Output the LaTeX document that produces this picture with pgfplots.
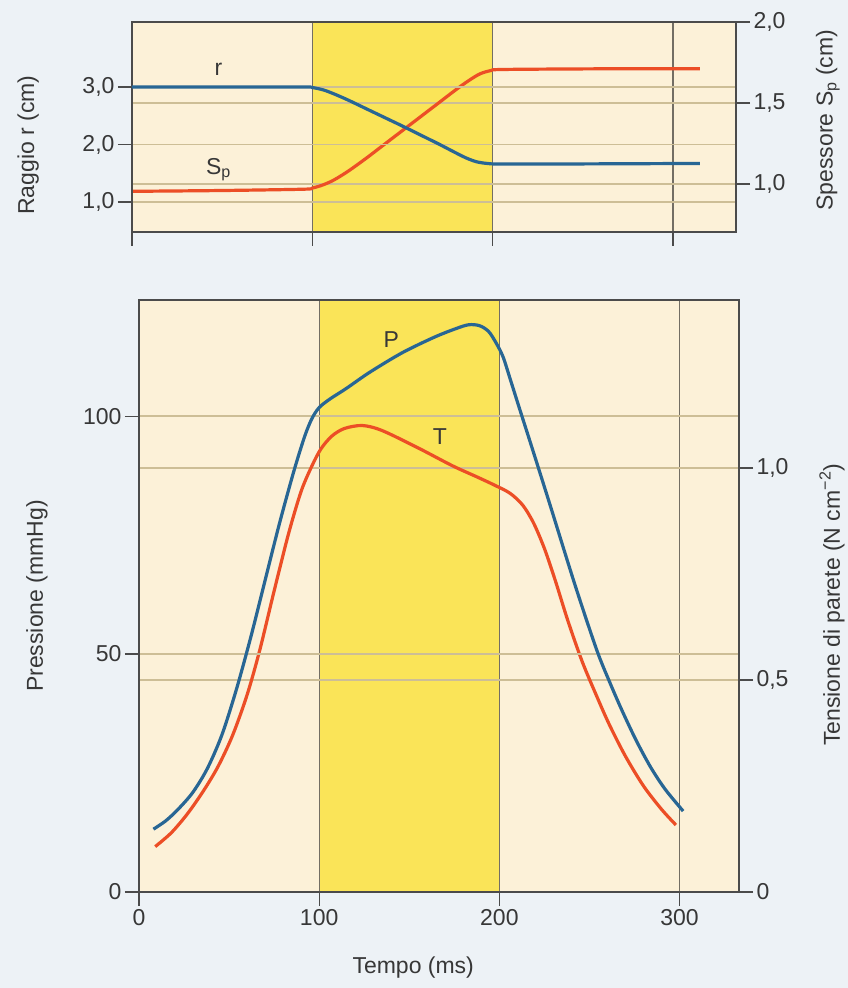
\documentclass[border=0pt]{standalone}
\usepackage{pgfplots}
\pgfplotsset{compat=1.18}
\usepackage{fontspec}
\setmainfont{Liberation Sans}
\definecolor{pagebg}{RGB}{237,242,246}
\definecolor{beige}{RGB}{252,241,216}
\definecolor{band}{RGB}{250,228,88}
\definecolor{cblue}{RGB}{40,102,148}
\definecolor{cred}{RGB}{236,78,38}
\definecolor{hgrid}{RGB}{205,190,150}
\definecolor{vgrid}{RGB}{115,110,100}
\definecolor{axcol}{RGB}{75,75,75}
\definecolor{txt}{RGB}{55,55,55}

\pgfplotsset{
  base/.style={
    scale only axis,
    axis line style={axcol, line width=1.4pt},
    tick style={axcol, line width=1.2pt},
    major tick length=14pt,
    tick align=outside,
    tick label style={font=\fontsize{23}{27}\selectfont, text=txt},
    label style={font=\fontsize{23}{27}\selectfont, text=txt},
    /pgf/number format/assume math mode=true,
    y grid style={hgrid, line width=1.5pt},
    x grid style={vgrid, line width=1.2pt},
  },
  bgaxis/.style={
    scale only axis, hide axis, xmin=0, ymin=0, ymax=1,
  },
}

\begin{document}
\begin{tikzpicture}[x=1pt,y=1pt]
\fill[pagebg] (0,0) rectangle (848,988);

% ===== TOP PANEL =====
\begin{axis}[bgaxis, at={(132pt,756pt)}, anchor=south west,
  width=604pt, height=210pt, xmax=335]
  \addplot[draw=none, fill=beige] coordinates {(0,1) (335,1)} \closedcycle;
  \addplot[draw=none, fill=band] coordinates {(100,1) (200,1)} \closedcycle;
\end{axis}
% right scale: spessore
\begin{axis}[base, at={(132pt,756pt)}, anchor=south west,
  width=604pt, height=210pt,
  xmin=0, xmax=335, ymin=0.704, ymax=2.0,
  xtick={0,100,200,300}, xticklabels={}, xtick pos=bottom,
  xmajorgrids,
  ytick={1,1.5,2}, yticklabels={{1,0},{1,5},{2,0}}, ytick pos=right,
  ymajorgrids,
  ylabel={Spessore S\textsubscript{p} (cm)},
  ylabel style={at={(axis description cs:1.152,0.533)}, anchor=center},
]
  \addplot[cred, line width=3.2pt, smooth] coordinates {
    (0,0.955) (50,0.96) (95,0.968) (100,0.975) (106,0.995) (112,1.025)
    (120,1.08) (130,1.16) (140,1.245) (150,1.33) (160,1.415) (170,1.50)
    (180,1.585) (187,1.64) (193,1.68) (199,1.70) (206,1.707) (260,1.711)
    (315,1.712)
  };
\end{axis}
% left scale: raggio
\begin{axis}[base, at={(132pt,756pt)}, anchor=south west,
  width=604pt, height=210pt,
  xmin=0, xmax=335, ymin=0.478, ymax=4.13,
  xtick=\empty,
  ytick={1,2,3}, yticklabels={{1,0},{2,0},{3,0}}, ytick pos=left,
  ymajorgrids,
  ylabel={Raggio r (cm)},
  ylabel style={at={(axis description cs:-0.172,0.414)}, anchor=center},
]
  \addplot[cblue, line width=3.2pt, smooth] coordinates {
    (0,3.0) (50,3.0) (95,3.0) (100,2.99) (106,2.95) (112,2.88) (120,2.77)
    (130,2.62) (140,2.47) (150,2.32) (160,2.165) (170,2.01) (178,1.88)
    (185,1.77) (191,1.70) (197,1.67) (205,1.66) (250,1.662) (315,1.67)
  };
  \node[font=\fontsize{23}{27}\selectfont, text=txt] at (axis cs:48,3.3) {r};
  \node[font=\fontsize{23}{27}\selectfont, text=txt] at (axis cs:48,1.56) {S\textsubscript{p}};
\end{axis}

% ===== BOTTOM PANEL =====
\begin{axis}[bgaxis, at={(139pt,96pt)}, anchor=south west,
  width=600pt, height=592pt, xmax=333]
  \addplot[draw=none, fill=beige] coordinates {(0,1) (333,1)} \closedcycle;
  \addplot[draw=none, fill=band] coordinates {(100,1) (200,1)} \closedcycle;
\end{axis}
% right scale: tensione
\begin{axis}[base, at={(139pt,96pt)}, anchor=south west,
  width=600pt, height=592pt,
  xmin=0, xmax=333, ymin=0, ymax=1.396,
  xtick={0,100,200,300}, xtick pos=bottom,
  xmajorgrids,
  xlabel={Tempo (ms)},
  xlabel style={at={(axis description cs:0.457,-0.128)}, anchor=center},
  ytick={0,0.5,1}, yticklabels={0,{0,5},{1,0}}, ytick pos=right,
  ymajorgrids,
  ylabel={Tensione di parete (N cm\textsuperscript{−2})},
  ylabel style={at={(axis description cs:1.155,0.485)}, anchor=center},
]
  \addplot[cred, line width=3.2pt, smooth] coordinates {
    (9,0.107) (18,0.14) (27,0.185) (36,0.24) (44,0.297) (52,0.37)
    (60,0.465) (67,0.57) (75,0.71) (83,0.845) (90,0.945) (96,1.005)
    (101,1.045) (107,1.075) (114,1.093) (124,1.1) (135,1.088) (155,1.047)
    (174,1.005) (188,0.978) (198,0.958) (206,0.94) (213,0.912) (219,0.87)
    (225,0.81) (231,0.735) (238,0.64) (246,0.543) (254,0.462) (261,0.395)
    (270,0.32) (280,0.25) (290,0.195) (298,0.158)
  };
\end{axis}
% left scale: pressione
\begin{axis}[base, at={(139pt,96pt)}, anchor=south west,
  width=600pt, height=592pt,
  xmin=0, xmax=333, ymin=0, ymax=124.4,
  xtick=\empty,
  ytick={0,50,100}, ytick pos=left,
  ymajorgrids,
  ylabel={Pressione (mmHg)},
  ylabel style={at={(axis description cs:-0.17,0.5)}, anchor=center},
]
  \addplot[cblue, line width=3.2pt, smooth] coordinates {
    (8,13.2) (15,15.0) (22,17.5) (30,21) (38,26) (46,33) (54,42.5)
    (62,53.5) (70,65.5) (78,77.5) (86,88.5) (92,95.8) (96,99.5) (100,101.8)
    (106,103.6) (115,105.8) (128,109.2) (146,113.3) (164,116.6) (176,118.4)
    (183,119.2) (189,119) (194,117.8) (198,115.5) (202,112.5) (206,107.8)
    (211,101.8) (218,93.5) (228,81.5) (242,64.5) (254,50.9) (261,44.3)
    (268,38.2) (276,31.8) (284,26.2) (292,21.6) (302,17)
  };
  \node[font=\fontsize{23}{27}\selectfont, text=txt] at (axis cs:140,116) {P};
  \node[font=\fontsize{23}{27}\selectfont, text=txt] at (axis cs:167,95.6) {T};
\end{axis}
\end{tikzpicture}
\end{document}
